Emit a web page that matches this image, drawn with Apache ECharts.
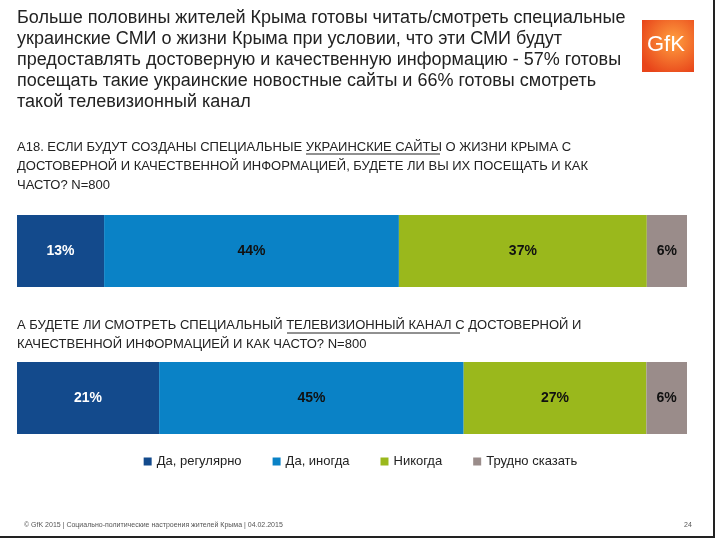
<!DOCTYPE html>
<html lang="ru">
<head>
<meta charset="UTF-8">
<title>GfK</title>
<script src="https://cdn.jsdelivr.net/npm/echarts@6/dist/echarts.min.js"></script>
<style>html,body{margin:0;padding:0;background:#fff}#c{width:721px;height:540px}</style>
</head>
<body>
<div id="c"></div>
<script>
var answers = ['Да, регулярно', 'Да, иногда', 'Никогда', 'Трудно сказать'];
var colors = ['#134a8c', '#0a82c6', '#9ab81c', '#9a8c8a'];
var sites = [13, 44, 37, 6];
var tv = [21, 45, 27, 6];

var chart = echarts.init(document.getElementById('c'));
var font = 'Arial, "Liberation Sans", sans-serif';
function sum(a) { return a.reduce(function (s, v) { return s + v; }, 0); }

var series = [];
answers.forEach(function (name, i) {
  [sites, tv].forEach(function (arr, g) {
    series.push({
      name: name, type: 'bar', stack: 's' + g,
      xAxisIndex: g, yAxisIndex: g, barWidth: 72,
      itemStyle: { color: colors[i] },
      label: { show: true, formatter: '{c}%', color: i === 0 ? '#fff' : '#111',
        fontFamily: font, fontWeight: 'bold', fontSize: 14 },
      data: [arr[i]]
    });
  });
});

function txt(x, y, s, size, lh, color) {
  return { type: 'text', x: x, y: y, style: { text: s, fontFamily: font,
    fontSize: size, fill: color || '#222', lineHeight: lh } };
}

chart.setOption({
  animation: false,
  grid: [
    { left: 17, right: 34, top: 215, height: 72 },
    { left: 17, right: 34, top: 362, height: 72 }
  ],
  xAxis: [sites, tv].map(function (a, g) { return { gridIndex: g, type: 'value', min: 0, max: sum(a), show: false }; }),
  yAxis: [0, 1].map(function (g) { return { gridIndex: g, type: 'category', data: ['a'], show: false }; }),
  legend: {
    data: answers, bottom: 67, left: 'center', itemWidth: 8, itemHeight: 8, icon: 'rect',
    itemGap: 31, textStyle: { fontFamily: font, fontSize: 13, color: '#222' }
  },
  series: series,
  graphic: [
    txt(17, 8, 'Больше половины жителей Крыма готовы читать/смотреть специальные\nукраинские СМИ о жизни Крыма при условии, что эти СМИ будут\nпредоставлять достоверную и качественную информацию - 57% готовы\nпосещать такие украинские новостные сайты и 66% готовы смотреть\nтакой телевизионный канал', 18, 21),
    txt(17, 138, 'А18. ЕСЛИ БУДУТ СОЗДАНЫ СПЕЦИАЛЬНЫЕ УКРАИНСКИЕ САЙТЫ О ЖИЗНИ КРЫМА С\nДОСТОВЕРНОЙ И КАЧЕСТВЕННОЙ ИНФОРМАЦИЕЙ, БУДЕТЕ ЛИ ВЫ ИХ ПОСЕЩАТЬ И КАК\nЧАСТО? N=800', 13, 19),
    txt(17, 316, 'А БУДЕТЕ ЛИ СМОТРЕТЬ СПЕЦИАЛЬНЫЙ ТЕЛЕВИЗИОННЫЙ КАНАЛ С ДОСТОВЕРНОЙ И\nКАЧЕСТВЕННОЙ ИНФОРМАЦИЕЙ И КАК ЧАСТО? N=800', 13, 19),
    { type: 'line', shape: { x1: 306, y1: 154, x2: 440, y2: 154 }, style: { stroke: '#222', lineWidth: 1 } },
    { type: 'line', shape: { x1: 287, y1: 333, x2: 460, y2: 333 }, style: { stroke: '#222', lineWidth: 1 } },
    txt(24, 521, '© GfK 2015 | Социально-политические настроения жителей Крыма | 04.02.2015', 7, 9, '#555'),
    txt(684, 521, '24', 7, 9, '#555'),
    { type: 'rect', shape: { x: 642, y: 20, width: 52, height: 52 },
      style: { fill: new echarts.graphic.RadialGradient(0.6, 0.4, 0.7, [{ offset: 0, color: '#ffa040' }, { offset: 1, color: '#e8451a' }]) } },
    { type: 'text', x: 647, y: 34, style: { text: 'GfK', fontFamily: font, fontSize: 22, fill: '#fff' } },
    { type: 'line', shape: { x1: 714, y1: 0, x2: 714, y2: 537 }, style: { stroke: '#222', lineWidth: 2 } },
    { type: 'line', shape: { x1: 0, y1: 537, x2: 715, y2: 537 }, style: { stroke: '#222', lineWidth: 2 } }
  ]
});
</script>
</body>
</html>
